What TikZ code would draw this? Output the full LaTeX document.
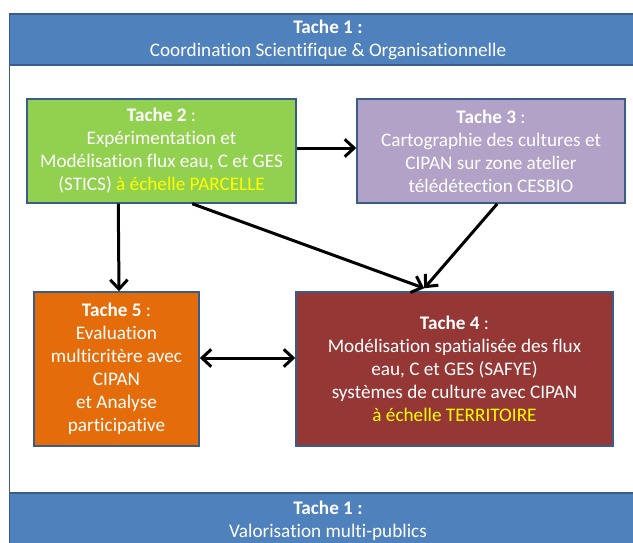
\documentclass[tikz,border=0pt]{standalone}
\usepackage{fontspec}
\setmainfont{Carlito}[Ligatures={NoCommon}]
\usetikzlibrary{arrows.meta,calc}
\definecolor{bandblue}{HTML}{4F81BD}
\definecolor{edgeblue}{HTML}{385D8A}
\definecolor{tgreen}{HTML}{92D050}
\definecolor{tpurple}{HTML}{B3A2C7}
\definecolor{torange}{HTML}{E46C0A}
\definecolor{tred}{HTML}{953735}
\definecolor{tyellow}{HTML}{FFFF00}
\begin{document}
\begin{tikzpicture}[x=0.75pt,y=-0.75pt,
  taskbox/.style={draw=edgeblue, line width=1.1pt, text=white, align=center,
    font=\fontsize{14.4}{17.25}\selectfont, inner sep=0pt},
  bandtext/.style={text=white, align=center, font=\fontsize{14.4}{17.25}\selectfont, inner sep=0pt},
  arr/.style={line width=2.25pt, -{Straight Barb[length=7pt,width=13pt]}},
  dblarr/.style={line width=2.25pt, {Straight Barb[length=7pt,width=13pt]}-{Straight Barb[length=7pt,width=13pt]}}]
\useasboundingbox (0,0) rectangle (633,543);
\clip (0,0) rectangle (633,543);
% frame and bands
\draw[edgeblue, line width=1.1pt, fill=white] (9.5,14) rectangle (647,560);
\draw[edgeblue, line width=1.1pt, fill=bandblue] (9.5,14) rectangle (647,65);
\draw[edgeblue, line width=1.1pt, fill=bandblue] (9.5,493) rectangle (647,560);
\node[bandtext] (top) at (328,40) {\textbf{Tache 1 :}\\Coordination Scientifique \& Organisationnelle};
\node[bandtext] (bot) at (328,520.5) {\textbf{Tache 1 :}\\Valorisation multi-publics};
% task boxes
\node[taskbox, fill=tgreen, minimum width=201.75pt, minimum height=78pt] (t2) at (161.5,151)
  {\textbf{Tache 2} :\\Expérimentation et\\Modélisation flux eau, C et GES\\(STICS) {\color{tyellow}à échelle PARCELLE}};
\node[taskbox, fill=tpurple, minimum width=201pt, minimum height=78pt] (t3) at (491,151)
  {\textbf{Tache 3} :\\Cartographie des cultures et\\CIPAN sur zone atelier\\télédétection CESBIO};
\node[taskbox, fill=torange, minimum width=123.75pt, minimum height=115.5pt] (t5) at (116.5,369)
  {\textbf{Tache 5} :\\Evaluation\\multicritère avec\\CIPAN\\et Analyse\\participative};
\node[taskbox, fill=tred, minimum width=237.75pt, minimum height=115.5pt] (t4) at (454.5,369)
  {\textbf{Tache 4} :\\Modélisation spatialisée des flux\\eau, C et GES (SAFYE)\\systèmes de culture avec CIPAN\\{\color{tyellow}à échelle TERRITOIRE}};
% connectors
\coordinate (meet) at ($(t4.north west)+(129,-3)$);
\draw[arr] ($(t2.east)+(0,-3)$) -- ($(t3.west)+(0,-3)$);
\draw[arr] ($(t2.south west)+(92,0)$) -- ($(t5.north)+(2.5,0)$);
\draw[arr] ($(t2.south west)+(166,0)$) -- (meet);
\draw[arr] ($(t3.south west)+(141,0)$) -- (meet);
\draw[dblarr] ($(t5.east)+(0,-11)$) -- ($(t4.west)+(0,-11)$);
\end{tikzpicture}
\end{document}
